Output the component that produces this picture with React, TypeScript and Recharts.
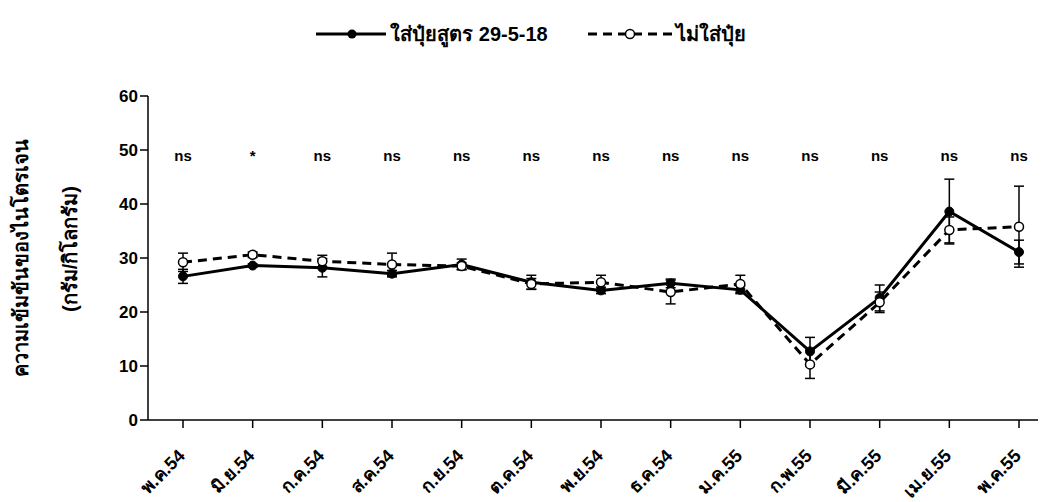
import { LineChart, Line, XAxis, YAxis, ErrorBar, Legend, ReferenceDot, Label } from 'recharts'

const months = ['พ.ค.54', 'มิ.ย.54', 'ก.ค.54', 'ส.ค.54', 'ก.ย.54', 'ต.ค.54', 'พ.ย.54', 'ธ.ค.54', 'ม.ค.55', 'ก.พ.55', 'มี.ค.55', 'เม.ย.55', 'พ.ค.55']
const fertilized = [26.6, 28.6, 28.2, 27.1, 28.8, 25.5, 24.0, 25.3, 24.1, 12.7, 22.6, 38.6, 31.1]
const fertilizedErr = [1.3, 0.3, 1.7, 0.6, 1.0, 1.3, 0.6, 0.8, 0.7, 2.6, 2.4, 6.0, 2.2]
const control = [29.2, 30.6, 29.4, 28.8, 28.5, 25.2, 25.5, 23.7, 25.2, 10.3, 21.8, 35.2, 35.8]
const controlErr = [1.7, 0.5, 1.1, 2.1, 0.6, 1.0, 1.3, 2.2, 1.6, 2.6, 1.9, 2.4, 7.5]
const significance = ['ns', '*', 'ns', 'ns', 'ns', 'ns', 'ns', 'ns', 'ns', 'ns', 'ns', 'ns', 'ns']
const yTicks = [0, 10, 20, 30, 40, 50, 60]

const seriesNames = { fertilized: 'ใส่ปุ๋ยสูตร 29-5-18', control: 'ไม่ใส่ปุ๋ย' }

const data = months.map((m, i) => ({
  month: m,
  fertilized: fertilized[i],
  fertilizedErr: fertilizedErr[i],
  control: control[i],
  controlErr: controlErr[i],
}))

const FONT = '"Liberation Sans", Arial, sans-serif'

function XTick({ x, y, payload }: any) {
  return (
    <g transform={`translate(${x + 3},${y + 27})`}>
      <text
        transform="rotate(-45)"
        textAnchor="end"
        fontSize={18}
        fontWeight="bold"
        fontFamily={FONT}
        fill="#000"
      >
        {payload.value}
      </text>
    </g>
  )
}

function YLabel({ viewBox }: any) {
  const cy = viewBox.y + viewBox.height / 2
  return (
    <g fontFamily={FONT} fontWeight="bold" fontSize={20} fill="#000">
      <text transform={`translate(13,${cy}) rotate(-90)`} textAnchor="middle" dominantBaseline="central">
        ความเข้มข้นของไนโตรเจน
      </text>
      <text transform={`translate(62,${cy - 9}) rotate(-90)`} textAnchor="middle" dominantBaseline="central">
        (กรัม/กิโลกรัม)
      </text>
    </g>
  )
}

function LegendContent() {
  return (
    <div style={{ display: 'flex', justifyContent: 'center', alignItems: 'center', fontFamily: FONT, fontWeight: 'bold', fontSize: 20 }}>
      <svg width={70} height={14}>
        <line x1={0} y1={7} x2={70} y2={7} stroke="#000" strokeWidth={3} />
        <circle cx={36} cy={7} r={4.5} fill="#000" />
      </svg>
      <span style={{ marginLeft: 4, marginRight: 40 }}>{seriesNames.fertilized}</span>
      <svg width={84} height={14}>
        <line x1={0} y1={7} x2={84} y2={7} stroke="#000" strokeWidth={3} strokeDasharray="9 6" />
        <circle cx={42} cy={7} r={4.5} fill="#fff" stroke="#000" strokeWidth={1.5} />
      </svg>
      <span style={{ marginLeft: 4 }}>{seriesNames.control}</span>
    </div>
  )
}

export default function App() {
  return (
    <div style={{ width: 1038, height: 494, overflow: 'hidden' }}>
      <LineChart width={1046} height={494} data={data} margin={{ top: 56, right: 0, left: 0, bottom: 2 }}>
        <XAxis
          dataKey="month"
          height={80}
          tick={<XTick />}
          tickSize={8}
          padding={{ left: 35, right: 35 }}
          axisLine={{ stroke: '#000', strokeWidth: 1.5 }}
          tickLine={{ stroke: '#000', strokeWidth: 1.5 }}
          interval={0}
        />
        <YAxis
          domain={[0, 60]}
          ticks={yTicks}
          width={140}
          tickSize={8}
          axisLine={{ stroke: '#000', strokeWidth: 1.5 }}
          tickLine={{ stroke: '#000', strokeWidth: 1.5 }}
          tick={{ fontSize: 17, fontWeight: 'bold', fill: '#000', fontFamily: FONT }}
        >
          <Label content={<YLabel />} />
        </YAxis>
        <Legend verticalAlign="top" content={<LegendContent />} wrapperStyle={{ top: 10, left: 0, width: 1046 }} />
        <Line
          dataKey="fertilized"
          name={seriesNames.fertilized}
          stroke="#000"
          strokeWidth={3}
          dot={{ r: 4.5, fill: '#000', stroke: '#000', strokeWidth: 1 }}
          isAnimationActive={false}
        >
          <ErrorBar dataKey="fertilizedErr" width={5} stroke="#000" strokeWidth={1.5} direction="y" />
        </Line>
        <Line
          dataKey="control"
          name={seriesNames.control}
          stroke="#000"
          strokeWidth={3}
          strokeDasharray="9 6"
          dot={{ r: 4.5, fill: '#fff', stroke: '#000', strokeWidth: 1.5, strokeDasharray: '' }}
          isAnimationActive={false}
        >
          <ErrorBar dataKey="controlErr" width={5} stroke="#000" strokeWidth={1.5} direction="y" />
        </Line>
        {months.map((m, i) => (
          <ReferenceDot
            key={m}
            x={m}
            y={49}
            r={0}
            stroke="none"
            label={{ value: significance[i], position: 'center', fontSize: 15, fontWeight: 'bold', fill: '#000', fontFamily: FONT }}
          />
        ))}
      </LineChart>
    </div>
  )
}
